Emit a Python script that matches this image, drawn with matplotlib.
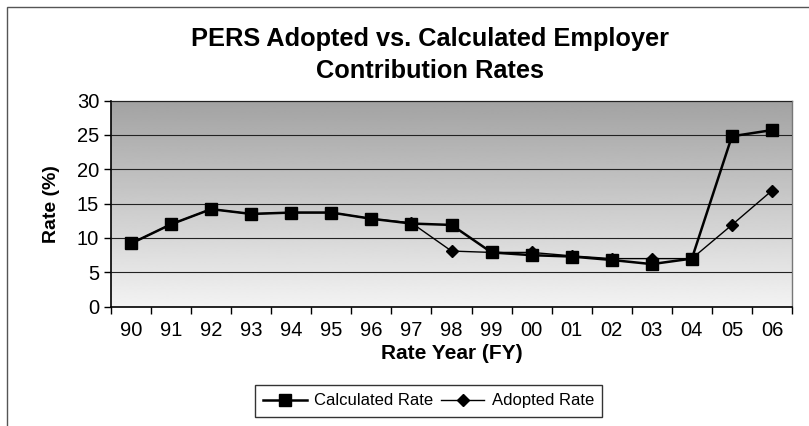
import numpy as np
import matplotlib.pyplot as plt
from matplotlib.patches import Rectangle

plt.rcParams['font.family'] = ['Liberation Sans', 'DejaVu Sans']

years = ['90', '91', '92', '93', '94', '95', '96', '97', '98',
         '99', '00', '01', '02', '03', '04', '05', '06']
calculated = [9.2, 12.0, 14.2, 13.5, 13.7, 13.7, 12.8, 12.1, 11.9,
              7.9, 7.5, 7.3, 6.8, 6.2, 7.0, 24.8, 25.7]
adopted = [9.2, 12.0, 14.2, 13.5, 13.7, 13.7, 12.8, 12.2, 8.1,
           7.9, 7.9, 7.4, 7.0, 7.0, 7.0, 11.9, 16.9]

fig = plt.figure(figsize=(8.09, 4.26), dpi=100)
ax = fig.add_axes([0.1372, 0.280, 0.8418, 0.484])

# figure frame
fig.patches.append(Rectangle((7 / 809, -0.1), 1.1, 1 - 7 / 426 + 0.1,
                             transform=fig.transFigure, fill=False,
                             edgecolor='#555555', linewidth=1.0))

x = np.arange(len(years))
ax.set_xlim(-0.5, len(years) - 0.5)
ax.set_ylim(0, 30)

# gray gradient background, darker at the top
grad = np.linspace(1, 0, 256).reshape(-1, 1)
ax.imshow(grad, extent=(-0.5, len(years) - 0.5, 0, 30), origin='lower',
          aspect='auto', cmap='gray', vmin=-2.0, vmax=1.15, zorder=0,
          interpolation='bilinear')

ax.set_yticks(range(0, 31, 5))
ax.yaxis.grid(True, color='#222222', linewidth=0.8, zorder=1)
ax.set_axisbelow(False)

ax.plot(x, calculated, color='black', linewidth=1.8, marker='s',
        markersize=9, label='Calculated Rate', zorder=4)
ax.plot(x, adopted, color='black', linewidth=1.0, marker='D',
        markersize=6, label='Adopted Rate', zorder=3)

ax.set_xticks(np.arange(-0.5, len(years), 1), minor=False)
ax.set_xticklabels([])
ax.set_xticks(x, minor=True)
ax.set_xticklabels(years, minor=True, fontsize=14.5)
ax.tick_params(axis='x', which='minor', length=0, pad=10)
ax.tick_params(axis='x', which='major', length=5, direction='out', width=1)
ax.tick_params(axis='y', length=5, direction='out', labelsize=14.5, width=1)

for side in ['top', 'right']:
    ax.spines[side].set_color('#777777')
    ax.spines[side].set_linewidth(1.0)
for side in ['left', 'bottom']:
    ax.spines[side].set_linewidth(1.2)

ax.set_xlabel('Rate Year (FY)', fontsize=15, fontweight='bold', labelpad=3)
ax.set_ylabel('Rate (%)', fontsize=14, fontweight='bold', labelpad=12)

fig.text(0.531, 0.871, 'PERS Adopted vs. Calculated Employer\nContribution Rates',
         ha='center', va='center', fontsize=18.3, fontweight='bold',
         linespacing=1.38)

leg = fig.legend(loc='center', bbox_to_anchor=(0.530, 0.0587), ncol=2,
                 fontsize=12, frameon=True, fancybox=False,
                 edgecolor='black', handlelength=2.6, columnspacing=0.45,
                 handletextpad=0.45, borderpad=0.5)
leg.get_frame().set_linewidth(1.0)

fig.savefig('out.png', dpi=100)
